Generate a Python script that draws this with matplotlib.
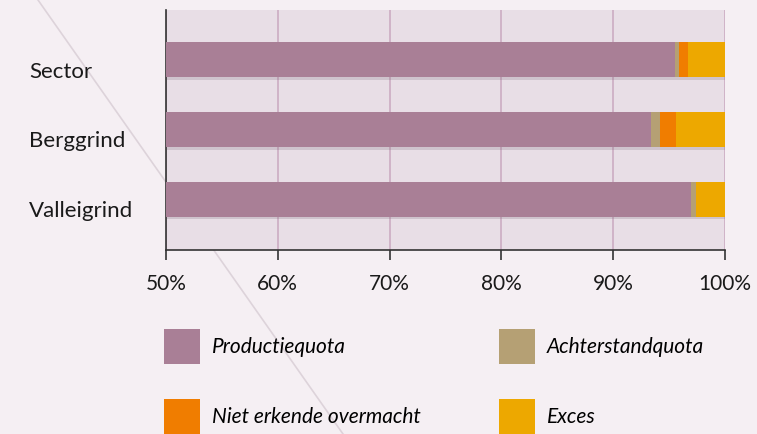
import matplotlib.pyplot as plt
import matplotlib.patheffects as pe
import matplotlib.transforms as mtransforms
from matplotlib.lines import Line2D
from matplotlib.patches import Patch
import numpy as np

categories = ["Sector", "Berggrind", "Valleigrind"]
series_names = ["Productiequota", "Achterstandquota", "Niet erkende overmacht", "Exces"]
productiequota = [95.5, 93.4, 96.95]
achterstandquota = [0.4, 0.75, 0.45]
niet_erkend = [0.75, 1.45, 0.0]
exces = [3.35, 4.4, 2.6]
xticks = [50, 60, 70, 80, 90, 100]
colors = ["#a97f96", "#b5a074", "#f07d00", "#eda800"]

plt.rcParams["font.family"] = ["Lato", "DejaVu Sans"]

fig = plt.figure(figsize=(7.57, 4.34), dpi=100, facecolor="#f5eff3")
ax = fig.add_axes([166 / 757, 1 - 250 / 434, 559 / 757, 240 / 434])
ax.set_facecolor("#e8dee6")

# decorative diagonal line behind the axes
fig.add_artist(Line2D([38 / 757, 343 / 757], [1.0, 0.0], color="#ddd3da",
                      linewidth=1.2, zorder=-1, transform=fig.transFigure))

y = np.arange(len(categories))
start = 50.0
shadow = [pe.SimplePatchShadow(offset=(1.0, -2.0), shadow_rgbFace="#7a6575", alpha=0.22), pe.Normal()]
handles = {}
left = np.full(len(categories), start)
for name, vals, col in zip(series_names, [productiequota, achterstandquota, niet_erkend, exces], colors):
    vals = np.array(vals, dtype=float)
    if name == "Productiequota":
        widths = vals - start
    else:
        widths = vals
    bars = ax.barh(y, widths, left=left, height=0.5, color=col, zorder=3, linewidth=0)
    for b in bars:
        b.set_path_effects(shadow)
    left = left + widths
    handles[name] = Patch(facecolor=col, edgecolor="none", label=name)

ax.set_xlim(50, 100)
ax.set_ylim(2.73, -0.71)
ax.set_yticks(y)
ax.set_yticklabels([])
ax.tick_params(axis="y", length=0)
offset = mtransforms.ScaledTranslation(-137 / 100, -12 / 100, fig.dpi_scale_trans)
for yi, cat in zip(y, categories):
    ax.text(0, yi, cat, transform=mtransforms.blended_transform_factory(ax.transAxes, ax.transData) + offset,
            ha="left", va="center", fontsize=16, color="#1a1a1a")

ax.set_xticks(xticks)
ax.set_xticklabels([f"{t}%" for t in xticks], fontsize=15, color="#1a1a1a")
ax.tick_params(axis="x", length=7, width=1.2, color="#333333", pad=10)
ax.xaxis.grid(True, color="#c9a8bf", linewidth=1.1, zorder=1)
ax.set_axisbelow(True)
for s in ["top", "right"]:
    ax.spines[s].set_visible(False)
for s in ["left", "bottom"]:
    ax.spines[s].set_color("#333333")
    ax.spines[s].set_linewidth(1.2)

order = ["Productiequota", "Niet erkende overmacht", "Achterstandquota", "Exces"]
fig.legend(handles=[handles[k] for k in order], loc="upper left",
           bbox_to_anchor=(164 / 757, 1 - 329 / 434), borderaxespad=0, borderpad=0,
           ncol=2, frameon=False, handlelength=1.73, handleheight=2.21,
           handletextpad=0.55, labelspacing=1.68, columnspacing=3.8,
           prop={"family": ["Lato", "DejaVu Sans"], "style": "italic", "size": 15})

fig.savefig("out.png", dpi=100, facecolor=fig.get_facecolor())
